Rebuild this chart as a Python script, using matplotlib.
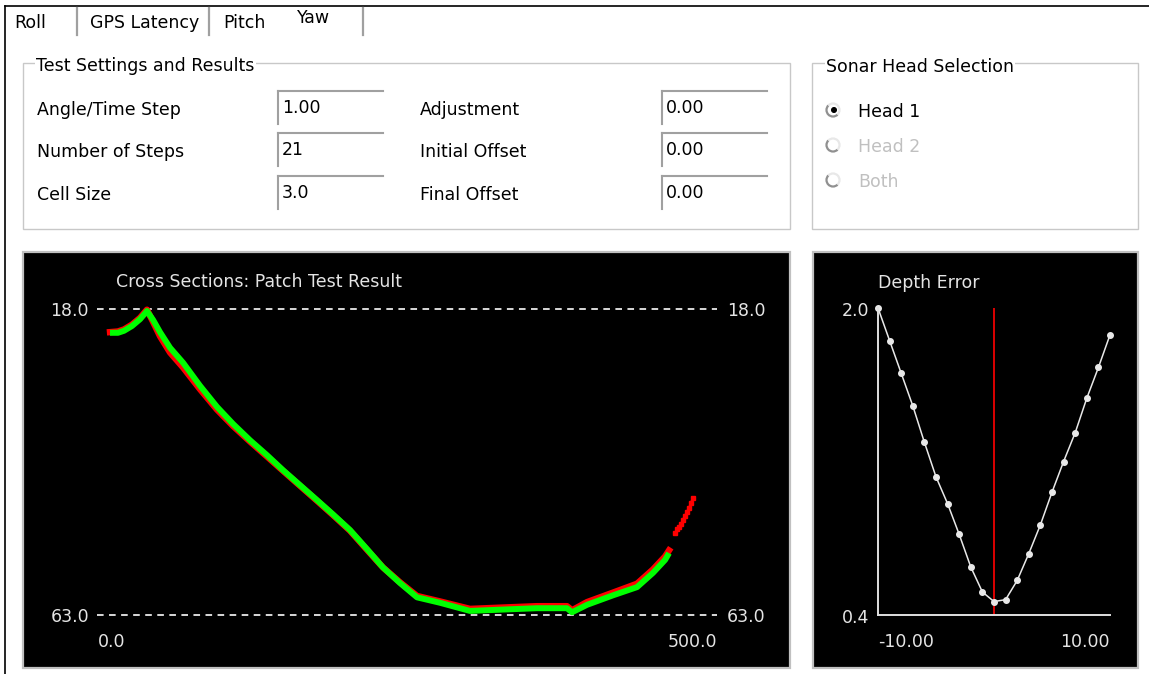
import matplotlib
matplotlib.use('Agg')
import matplotlib.pyplot as plt
from matplotlib.patches import Rectangle, Circle, Arc

plt.rcParams['font.family'] = ['DejaVu Sans']

W, H = 1149, 674
FS = 12.5

# window tabs and form values
tab_names = ['Roll', 'GPS Latency', 'Pitch', 'Yaw']
settings_left = ['Angle/Time Step', 'Number of Steps', 'Cell Size']
values_left = ['1.00', '21', '3.0']
settings_right = ['Adjustment', 'Initial Offset', 'Final Offset']
values_right = ['0.00', '0.00', '0.00']
head_options = ['Head 1', 'Head 2', 'Both']

# cross section profile (distance, depth)
distance = [10.5, 16.9, 21.8, 28.2, 34.7, 40.3, 45.2, 50.8, 58.9, 69.4, 83.1, 96.8,
            109.7, 123.4, 137.1, 150.0, 163.7, 177.4, 190.3, 204.0, 217.7, 230.6,
            244.4, 258.1, 276.6, 300.8, 327.4, 354.8, 379.0, 383.1, 395.2, 416.2,
            435.5, 448.4, 458.1, 461.3]
depth_green = [21.5, 21.5, 21.2, 20.5, 19.5, 18.3, 19.6, 21.4, 23.7, 25.9, 29.3, 32.4,
               34.9, 37.3, 39.5, 41.7, 43.9, 46.1, 48.2, 50.5, 53.3, 56.0, 58.3, 60.4,
               61.2, 62.4, 62.2, 62.0, 62.0, 62.6, 61.5, 60.1, 58.9, 56.8, 54.9, 53.9]
depth_red = [21.4, 21.3, 21.0, 20.3, 19.3, 18.1, 19.9, 22.0, 24.4, 26.6, 29.8, 32.8,
             35.2, 37.5, 39.7, 41.8, 44.0, 46.2, 48.3, 50.6, 53.4, 56.0, 58.2, 60.2,
             61.0, 62.1, 61.9, 61.7, 61.7, 62.3, 61.1, 59.7, 58.4, 56.3, 54.4, 53.5]
red_tail_x = [466.2, 467.8, 469.4, 471.0, 472.6, 474.2, 475.8, 477.4, 479.0, 480.6]
red_tail_depth = [50.9, 50.4, 50.0, 49.6, 49.0, 48.4, 47.8, 47.3, 46.5, 45.8]

# depth error per yaw step
yaw_steps = list(range(-10, 11))
depth_error = [2.00, 1.83, 1.66, 1.49, 1.30, 1.12, 0.98, 0.82, 0.65, 0.52, 0.47,
               0.48, 0.58, 0.72, 0.87, 1.04, 1.20, 1.35, 1.53, 1.69, 1.86]
best_yaw = 0.0

fig = plt.figure(figsize=(W / 100, H / 100), dpi=100)
fig.patch.set_facecolor('white')

bg = fig.add_axes([0, 0, 1, 1])
bg.set_xlim(0, W)
bg.set_ylim(H, 0)
bg.axis('off')


def px_axes(x0, y0, x1, y1):
    return fig.add_axes([x0 / W, 1 - y1 / H, (x1 - x0) / W, (y1 - y0) / H])


# outer frame and tab strip
bg.plot([5, W], [6, 6], color='black', lw=1.2)
bg.plot([5, 5], [6, H], color='black', lw=1.2)
tab_x = [14, 90, 223, 297]
tab_y = [28, 28, 28, 23]
for name, x, y in zip(tab_names, tab_x, tab_y):
    bg.text(x, y, name, fontsize=FS, color='black', va='baseline')
for x in [77, 209, 363]:
    bg.plot([x, x], [8, 35], color='#a0a0a0', lw=1.6)

# group box: test settings
bg.add_patch(Rectangle((23, 63), 767, 166, fill=False, ec='#c8c8c8', lw=1))
bg.text(36, 71, 'Test Settings and Results', fontsize=FS, va='baseline',
        bbox=dict(fc='white', ec='none', pad=1))
row_base = [115, 157, 200]
for i in range(3):
    bg.text(37, row_base[i], settings_left[i], fontsize=FS, va='baseline')
    bg.text(420, row_base[i], settings_right[i], fontsize=FS, va='baseline')
    for bx, val in [(278, values_left[i]), (662, values_right[i])]:
        top = row_base[i] - 24
        bg.plot([bx, bx + 105], [top, top], color='#a0a0a0', lw=1.5)
        bg.plot([bx, bx], [top, top + 33], color='#a0a0a0', lw=1.5)
        bg.text(bx + 4, row_base[i] - 2, val, fontsize=FS, va='baseline')

# group box: sonar head
bg.add_patch(Rectangle((812, 63), 326, 166, fill=False, ec='#c8c8c8', lw=1))
bg.text(826, 72, 'Sonar Head Selection', fontsize=FS, va='baseline',
        bbox=dict(fc='white', ec='none', pad=1))
radio_y = [110, 145, 180]
head_base = [117, 152, 187]
for i, name in enumerate(head_options):
    bg.add_patch(Arc((833, radio_y[i]), 13, 13, theta1=45, theta2=225,
                     color='#909090', lw=1.6))
    bg.add_patch(Arc((833, radio_y[i]), 13, 13, theta1=225, theta2=405,
                     color='#e8e8e8', lw=1.6))
    bg.text(858, head_base[i], name, fontsize=FS, va='baseline',
            color='black' if i == 0 else '#c0c0c0')
bg.add_patch(Circle((834, 110), 2.3, color='black'))

# black chart panels
bg.add_patch(Rectangle((23, 252), 767, 416, fc='black', ec='#c0c0c0', lw=1.6))
bg.add_patch(Rectangle((813, 252), 325, 416, fc='black', ec='#c0c0c0', lw=1.6))

txt = '#e4e4e4'
bg.text(116, 287, 'Cross Sections: Patch Test Result', fontsize=FS, color=txt, va='baseline')
bg.text(89, 316, '18.0', fontsize=FS, color=txt, va='baseline', ha='right')
bg.text(89, 622, '63.0', fontsize=FS, color=txt, va='baseline', ha='right')
bg.text(727, 316, '18.0', fontsize=FS, color=txt, va='baseline')
bg.text(727, 622, '63.0', fontsize=FS, color=txt, va='baseline')
bg.text(98, 647, '0.0', fontsize=FS, color=txt, va='baseline')
bg.text(717, 647, '500.0', fontsize=FS, color=txt, va='baseline', ha='right')

bg.text(878, 288, 'Depth Error', fontsize=FS, color=txt, va='baseline')
bg.text(869, 316, '2.0', fontsize=FS, color=txt, va='baseline', ha='right')
bg.text(869, 623, '0.4', fontsize=FS, color=txt, va='baseline', ha='right')
bg.text(878, 647, '-10.00', fontsize=FS, color=txt, va='baseline')
bg.text(1110, 647, '10.00', fontsize=FS, color=txt, va='baseline', ha='right')

# cross section plot
ax = px_axes(97, 309, 717, 615)
ax.set_facecolor('none')
ax.set_xlim(0, 500)
ax.set_ylim(63, 18)
ax.axis('off')
for d in [18, 63]:
    ax.axhline(d, color='#d8d8d8', lw=1.4, dashes=(3.4, 2.8), clip_on=False)
ax.plot(distance, depth_red, color='#ff0000', lw=4.6, clip_on=False)
ax.plot(red_tail_x, red_tail_depth, color='#ff0000', lw=1.6, marker='s',
        markersize=2.6, clip_on=False)
ax.plot(distance, depth_green, color='#00ff00', lw=4.3, clip_on=False,
        solid_capstyle='butt')

# depth error plot
ax2 = px_axes(878, 308, 1110, 615)
ax2.set_facecolor('none')
ax2.set_xlim(-10, 10)
ax2.set_ylim(0.4, 2.0)
for s in ['top', 'right']:
    ax2.spines[s].set_visible(False)
for s in ['left', 'bottom']:
    ax2.spines[s].set_color('#e0e0e0')
    ax2.spines[s].set_linewidth(1.4)
ax2.set_xticks([])
ax2.set_yticks([])
ax2.axvline(best_yaw, color='#dd0000', lw=1.4)
ax2.plot(yaw_steps, depth_error, color='#e8e8e8', lw=1.1, marker='o',
         markersize=4, clip_on=False)

fig.savefig('out.png', dpi=100)
